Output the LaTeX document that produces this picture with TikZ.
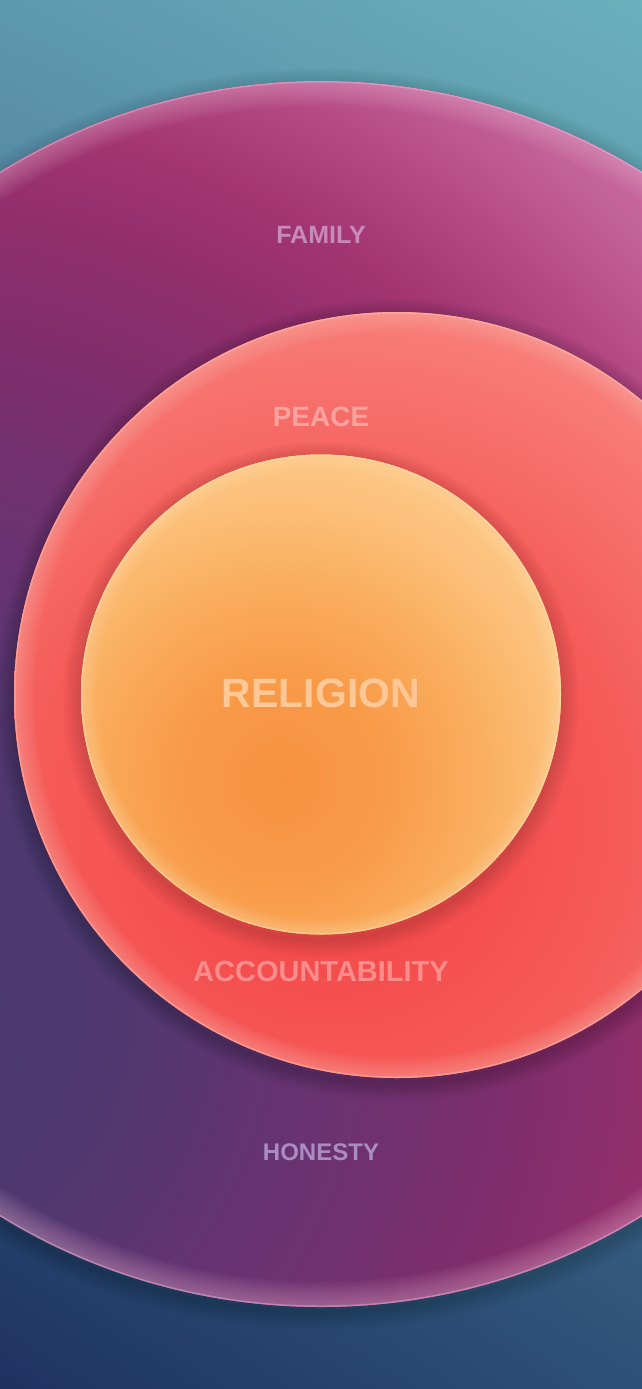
\documentclass[tikz,border=0pt]{standalone}
\usepackage{fontspec}
\setmainfont{Liberation Sans}
\usetikzlibrary{shadings}

% background corners
\definecolor{bkUL}{HTML}{5E98AE}
\definecolor{bkUR}{HTML}{6CB0BC}
\definecolor{bkLL}{HTML}{1E3262}
\definecolor{bkLR}{HTML}{2E5078}
% big circle
\definecolor{bgA}{HTML}{453A6E}
\definecolor{bgB}{HTML}{4E386F}
\definecolor{bgC}{HTML}{603470}
\definecolor{bgD}{HTML}{6C3270}
\definecolor{bgE}{HTML}{7C2E6C}
\definecolor{bgF}{HTML}{922E6C}
\definecolor{bgG}{HTML}{A23572}
\definecolor{bgH}{HTML}{B44A84}
\definecolor{bgI}{HTML}{C4629A}
\definecolor{bgJ}{HTML}{CC6C9E}
% middle circle
\definecolor{mdA}{HTML}{F24646}
\definecolor{mdB}{HTML}{F44D4D}
\definecolor{mdC}{HTML}{F55C58}
\definecolor{mdD}{HTML}{F7746F}
\definecolor{mdE}{HTML}{F98C86}
% inner circle
\definecolor{inA}{HTML}{F79240}
\definecolor{inB}{HTML}{F89A48}
\definecolor{inC}{HTML}{FAAE5E}
\definecolor{inD}{HTML}{FCC07A}
\definecolor{inE}{HTML}{FDCA8A}
% glows
\definecolor{glowBig}{HTML}{F4C0DC}
\definecolor{glowMid}{HTML}{FFC4BC}
\definecolor{glowIn}{HTML}{FFE2B4}
% texts
\definecolor{txFamily}{HTML}{C88AB8}
\definecolor{txPeace}{HTML}{F9A3A0}
\definecolor{txReligion}{HTML}{FDC896}
\definecolor{txAcc}{HTML}{FB8C8C}
\definecolor{txHonesty}{HTML}{A98DC0}

\pgfdeclareradialshading{bigshade}{\pgfpointorigin}{color(0bp)=(bgA); color(5.21bp)=(bgB); color(8.33bp)=(bgC); color(10.42bp)=(bgD); color(13.54bp)=(bgE); color(16.67bp)=(bgF); color(18.75bp)=(bgG); color(20.83bp)=(bgH); color(22.92bp)=(bgI); color(25bp)=(bgJ)}
\pgfdeclareradialshading{midshade}{\pgfpointorigin}{color(0bp)=(mdA); color(6.25bp)=(mdB); color(12.5bp)=(mdC); color(18.75bp)=(mdD); color(25bp)=(mdE)}
\pgfdeclareradialshading{innshade}{\pgfpointorigin}{color(0bp)=(inA); color(7.14bp)=(inB); color(14.29bp)=(inC); color(20bp)=(inD); color(25bp)=(inE)}

\newcommand{\dropshade}[4]{% x, y, r, opacity per ring
  \foreach \k in {1,...,12}{%
    \draw[black, opacity=#4, line width=\k*3pt] (#1,#2+5) circle (#3);
  }}
\newcommand{\rimglow}[5]{% x, y, r, colour, ring step
  \begin{scope}
    \clip (#1,#2) circle (#3);
    \foreach \k in {1,...,10}{%
      \draw[#4, opacity=0.045, line width=\k*#5] (#1,#2) circle (#3);
    }
    \draw[#4, opacity=0.4, line width=3pt] (#1,#2) circle (#3);
  \end{scope}}

\tikzset{lbl/.style={inner sep=0pt, anchor=base}}

\begin{document}
\begin{tikzpicture}[x=1pt,y=-1pt]
\useasboundingbox (0,0) rectangle (642,1389);
\shade[upper left=bkUL, upper right=bkUR, lower left=bkLL, lower right=bkLR] (0,0) rectangle (642,1389);

% big circle
\dropshade{321}{694}{613}{0.01}
\fill[bgF] (321,694) circle (613);
\begin{scope}
  \clip (321,694) circle (613);
  \shade[shading=bigshade] (-150,1000) circle (1200);
\end{scope}
\rimglow{321}{694}{613}{glowBig}{5pt}

% middle circle
\dropshade{397}{695}{383}{0.014}
\fill[mdC] (397,695) circle (383);
\begin{scope}
  \clip (397,695) circle (383);
  \shade[shading=midshade] (330,820) circle (600);
\end{scope}
\rimglow{397}{695}{383}{glowMid}{4pt}

% inner circle
\dropshade{321}{694.5}{240}{0.01}
\fill[inC] (321,694.5) circle (240);
\begin{scope}
  \clip (321,694.5) circle (240);
  \shade[shading=innshade] (280,780) circle (350);
\end{scope}
\rimglow{321}{694.5}{240}{glowIn}{3pt}

% labels
\node[lbl, text=txFamily, font=\fontsize{25}{29}\selectfont\bfseries] (family) at (321,243) {FAMILY};
\node[lbl, text=txPeace, font=\fontsize{28}{32}\selectfont\bfseries] (peace) at (321,426.5) {PEACE};
\node[lbl, text=txReligion, font=\fontsize{41}{47}\selectfont\bfseries] (religion) at (321,707.5) {RELIGION};
\node[lbl, text=txAcc, font=\fontsize{29}{33}\selectfont\bfseries] (accountability) at (321,981.5) {ACCOUNTABILITY};
\node[lbl, text=txHonesty, font=\fontsize{24}{28}\selectfont\bfseries] (honesty) at (321,1160.6) {HONESTY};
\end{tikzpicture}
\end{document}
